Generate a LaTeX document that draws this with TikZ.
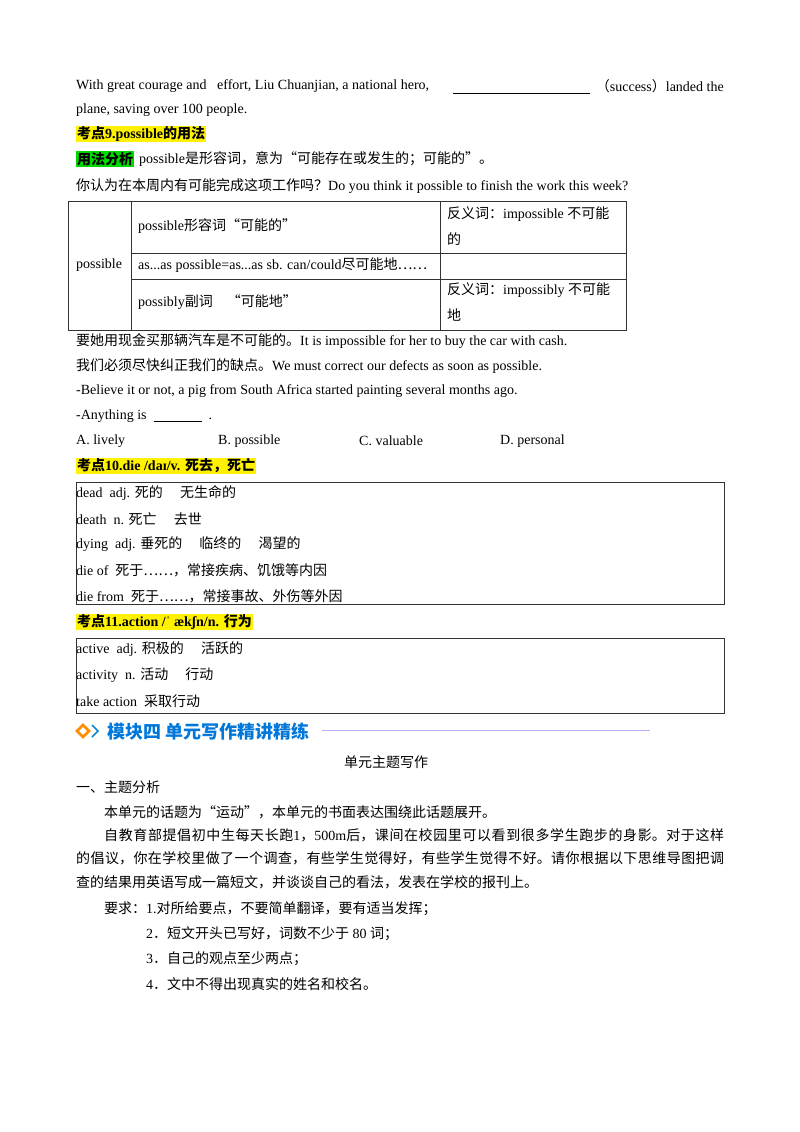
\documentclass[tikz,border=0pt]{standalone}
\usepackage{fontspec}
\setmainfont{Liberation Serif}
\newfontfamily\zhf{Noto Sans CJK SC}
\newcommand{\zh}[1]{{\zhf #1}}
\XeTeXlinebreaklocale "zh"
\XeTeXlinebreakskip=0pt plus 1pt
\begin{document}
\begin{tikzpicture}[x=1pt,y=-1pt,
  tx/.style={anchor=west,inner sep=0pt,font=\fontsize{14}{16}\selectfont},
  par/.style={anchor=north west,inner sep=0pt,text width=648pt,align=justify,font=\fontsize{14}{23.7}\selectfont\zhf},
  hl/.style={tx,fill=yellow,inner sep=1pt,font=\fontsize{14}{16}\selectfont\bfseries},
  gl/.style={tx,fill=green!85!black,inner sep=1pt,font=\fontsize{14}{16}\selectfont\bfseries},
  box/.style={draw=black!80,line width=0.8pt}]
\useasboundingbox (0,0) rectangle (800,1132);
\node[tx] (l1) at (76,86) {With great courage and \ \ effort, Liu Chuanjian, a national hero,};
\coordinate (b1) at (453,93); \coordinate (b2) at (590,93);
\draw[line width=0.6pt] (b1) -- (b2);
\node[tx,anchor=east] (l1b) at (724,86) {\zh{（}success\zh{）}landed the};
\node[tx] (l2) at (76,110) {plane, saving over 100 people.};
\node[hl] (k9) at (76,134) {\zh{考点}9.possible\zh{的用法}};
\node[gl] (yf) at (76,159) {\zh{用法分析}};
\node[tx] (l4) at (139,159) {possible\zh{是形容词，意为“可能存在或发生的；可能的”。}};
\node[tx] (l5) at (76,186) {\zh{你认为在本周内有可能完成这项工作吗？}Do you think it possible to finish the work this week?};
% table
\draw[box] (68,201) rectangle (626,330);
\draw[box] (131,201) -- (131,330) (440,201) -- (440,330)
  (131,253) -- (626,253) (131,279) -- (626,279);
\node[tx] (t0) at (76,265) {possible};
\node[tx] (t1) at (138,226) {possible\zh{形容词“可能的”}};
\node[tx] (t2) at (447,214) {\zh{反义词：}impossible \zh{不可能}};
\node[tx] (t3) at (447,239) {\zh{的}};
\node[tx] (t4) at (138,265) {as...as possible=as...as sb. can/could\zh{尽可能地……}};
\node[tx] (t5) at (138,302) {possibly\zh{副词\quad “可能地”}};
\node[tx] (t6) at (447,290) {\zh{反义词：}impossibly \zh{不可能}};
\node[tx] (t7) at (447,315) {\zh{地}};
\node[tx] (l6) at (76,341) {\zh{要她用现金买那辆汽车是不可能的。}It is impossible for her to buy the car with cash.};
\node[tx] (l7) at (76,366) {\zh{我们必须尽快纠正我们的缺点。}We must correct our defects as soon as possible.};
\node[tx] (l8) at (76,391) {-Believe it or not, a pig from South Africa started painting several months ago.};
\node[tx] (l9) at (76,416) {-Anything is \ \underline{\hspace{48pt}}\ \ .};
\node[tx] (oa) at (76,441) {A. lively};
\node[tx] (ob) at (218,441) {B. possible};
\node[tx] (oc) at (359,441) {C. valuable};
\node[tx] (od) at (500,441) {D. personal};
\node[hl] (k10) at (76,466) {\zh{考点}10.die /da\char"026A/v. \zh{死去，死亡}};
\draw[box] (76,482) rectangle (724,604);
\node[tx] (d1) at (76,493) {dead\ \ adj. \zh{死的\quad\ 无生命的}};
\node[tx] (d2) at (76,519) {death\ \ n. \zh{死亡\quad\ 去世}};
\node[tx] (d3) at (76,544) {dying\ \ adj. \zh{垂死的\quad\ 临终的\quad\ 渴望的}};
\node[tx] (d4) at (76,570) {die of\ \ \zh{死于……，常接疾病、饥饿等内因}};
\node[tx] (d5) at (76,596) {die from\ \ \zh{死于……，常接事故、外伤等外因}};
\node[hl] (k11) at (76,622) {\zh{考点}11.action /\char"02C8\ æk\char"0283n/n. \zh{行为}};
\draw[box] (76,638) rectangle (724,713);
\node[tx] (a1) at (76,649) {active\ \ adj. \zh{积极的\quad\ 活跃的}};
\node[tx] (a2) at (76,675) {activity\ \ n. \zh{活动\quad\ 行动}};
\node[tx] (a3) at (76,701) {take action\ \ \zh{采取行动}};
% module header
\draw[orange!90!yellow,line width=2.5pt] (83,725) -- (89,731) -- (83,737) -- (77,731) -- cycle;
\draw[cyan!70!blue,line width=1.5pt] (92,725) -- (98,731) -- (92,737);
\node[tx,font=\fontsize{18}{20}\selectfont\zhf\bfseries,text=blue!45!cyan!85!black] (m4) at (107,732) {模块四\ 单元写作精讲精练};
\coordinate (h1) at (322,730); \coordinate (h2) at (650,730);
\draw[blue!30,line width=0.8pt] (h1) -- (h2);
\node[tx,anchor=center] (tt) at (386,762) {\zh{单元主题写作}};
\node[tx] (p0) at (76,787) {\zh{一、主题分析}};
\node[tx] (p1) at (104,812) {\zh{本单元的话题为“运动”，本单元的书面表达围绕此话题展开。}};
\node[par] (p2) at (76,828) {\hspace*{28pt}自教育部提倡初中生每天长跑{\rmfamily 1}，{\rmfamily 500m}后，课间在校园里可以看到很多学生跑步的身影。对于这样\linebreak 的倡议，你在学校里做了一个调查，有些学生觉得好，有些学生觉得不好。请你根据以下思维导图把调\linebreak 查的结果用英语写成一篇短文，并谈谈自己的看法，发表在学校的报刊上。};
\node[tx] (p5) at (104,909) {\zh{要求：}1.\zh{对所给要点，不要简单翻译，要有适当发挥；}};
\node[tx] (p6) at (146,934) {2\zh{．短文开头已写好，词数不少于} 80 \zh{词；}};
\node[tx] (p7) at (146,959) {3\zh{．自己的观点至少两点；}};
\node[tx] (p8) at (146,984) {4\zh{．文中不得出现真实的姓名和校名。}};
\end{tikzpicture}
\end{document}
